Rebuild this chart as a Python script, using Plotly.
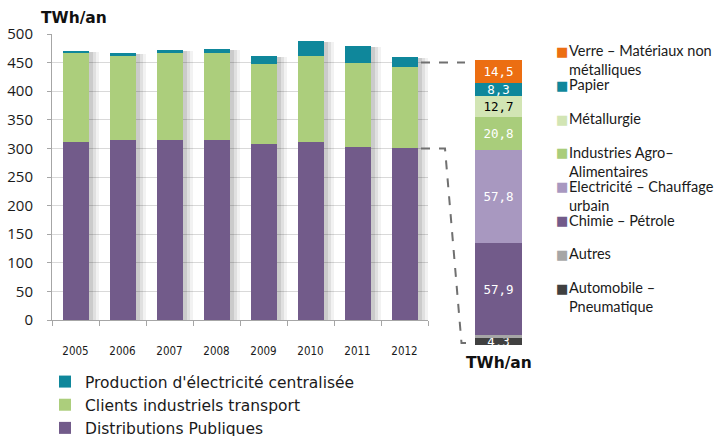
import numpy as np
import plotly.graph_objects as go

# ---------------- data ----------------
years = ["2005", "2006", "2007", "2008", "2009", "2010", "2011", "2012"]
distributions_publiques = [311, 314, 314, 314, 308, 311, 302, 301]
clients_industriels = [155, 148, 153, 153, 140, 151, 148, 142]
production_electricite = [5, 5, 5, 7, 13, 26, 29, 17]

main_names = ["Distributions Publiques", "Clients industriels transport",
              "Production d'électricité centralisée"]

sector_names = ["Automobile –<br>Pneumatique", "Autres", "Chimie – Pétrole",
                "Electricité – Chauffage<br>urbain", "Industries Agro–<br>Alimentaires",
                "Métallurgie", "Papier", "Verre – Matériaux non<br>métalliques"]
sector_values = [4.3, 1.8, 57.9, 57.8, 20.8, 12.7, 8.3, 14.5]
sector_labels = ["4,3", "", "57,9", "57,8", "20,8", "12,7", "8,3", "14,5"]

unit_label = "TWh/an"

# ---------------- style ----------------
W, H = 717, 436
main_colors = ["#725B8A", "#ACCE7C", "#0F879B"]
sector_colors = ["#404040", "#A6A6A6", "#725B8A", "#A898C0", "#A9CD7B",
                 "#D2E5B4", "#0F879B", "#EC6E12"]
sector_text_colors = ["white", "white", "white", "white", "white", "black", "white", "white"]


def px_x(p):
    return p / W


def px_y(p):
    return 1 - p / H


main_x_dom = [px_x(52), px_x(428)]
main_y_dom = [px_y(320), px_y(34)]
side_x_dom = [px_x(475), px_x(522)]
side_y_dom = [px_y(345), px_y(60)]


def main_y_paper(v):
    return main_y_dom[0] + v / 500 * (main_y_dom[1] - main_y_dom[0])


bar_w = 26 / 47

fig = go.Figure()

# soft shadows behind main bars
totals = np.array(distributions_publiques) + np.array(clients_industriels) + np.array(production_electricite)
for extra, col in [(10, "rgba(0,0,0,0.05)"), (7, "rgba(0,0,0,0.07)"), (4, "rgba(0,0,0,0.09)")]:
    fig.add_trace(go.Bar(
        x=years, y=totals - 2, base=0,
        width=bar_w + extra / 47, offset=-bar_w / 2,
        marker=dict(color=col, line=dict(width=0)),
        showlegend=False, hoverinfo="skip", xaxis="x", yaxis="y"))

base = np.zeros(len(years))
for name, vals, col in zip(main_names, [distributions_publiques, clients_industriels, production_electricite], main_colors):
    fig.add_trace(go.Bar(
        x=years, y=vals, base=base.copy(), name=name,
        width=bar_w, offset=-bar_w / 2,
        marker=dict(color=col, line=dict(width=0)),
        legend="legend", xaxis="x", yaxis="y"))
    base = base + np.array(vals)

# side stacked bar
cum = 0.0
for name, v, lab, col, tcol in zip(sector_names, sector_values, sector_labels, sector_colors, sector_text_colors):
    fig.add_trace(go.Bar(
        x=[0], y=[v], base=[cum], name=name,
        width=1, offset=-0.5,
        text=[lab], textposition="inside", insidetextanchor="middle",
        constraintext="none", textangle=0,
        textfont=dict(family="DejaVu Sans Mono", size=12.5, color=tcol),
        marker=dict(color=col, line=dict(width=0)),
        showlegend=False, xaxis="x2", yaxis="y2"))
    cum += v

side_total = cum

# dashed connector lines
x_start = px_x(421)
dash_line = dict(color="#707070", width=2, dash="dash")
shapes = [
    dict(type="line", xref="paper", yref="paper",
         x0=x_start, x1=px_x(465), y0=main_y_paper(450), y1=main_y_paper(450), line=dash_line),
    dict(type="path", xref="paper", yref="paper",
         path=f"M {x_start},{main_y_paper(300)} L {px_x(445)},{main_y_paper(300)} "
              f"L {px_x(461.5)},{px_y(343)} L {px_x(466)},{px_y(343)}",
         line=dash_line),
]

annotations = [dict(text=unit_label, x=(side_x_dom[0] + side_x_dom[1]) / 2, y=px_y(363),
                    xref="paper", yref="paper", showarrow=False, xanchor="center", yanchor="middle",
                    font=dict(family="DejaVu Sans", size=15.5, color="#111", weight="bold"))]

# right-hand legend for the sector bar (top item first)
leg_font = 14.5
for i, (name, col) in enumerate(zip(sector_names[::-1], sector_colors[::-1])):
    first_y = 51 + 33.8 * i
    n_lines = name.count("<br>") + 1
    annotations.append(dict(text="■", x=px_x(562), y=px_y(first_y + 0.5), xref="paper", yref="paper",
                            showarrow=False, xanchor="center", yanchor="middle",
                            font=dict(family="DejaVu Sans", size=13, color=col)))
    annotations.append(dict(text=name, x=px_x(567), y=px_y(first_y + (n_lines - 1) * 1.3 * leg_font / 2),
                            xref="paper", yref="paper", showarrow=False, xanchor="left",
                            yanchor="middle", align="left",
                            font=dict(family="Lato", size=leg_font, color="#1a1a1a")))

fig.update_layout(
    width=W, height=H,
    margin=dict(l=0, r=0, t=0, b=0, autoexpand=False),
    paper_bgcolor="white", plot_bgcolor="rgba(0,0,0,0)",
    barmode="overlay", bargap=0,
    font=dict(family="Open Sans", color="#1a1a1a"),
    title=dict(text=unit_label, x=px_x(41), y=px_y(18), xanchor="left", yanchor="middle",
               font=dict(family="DejaVu Sans", size=15.5, color="#111", weight="bold")),
    xaxis=dict(domain=main_x_dom, anchor="y", type="category",
               showline=True, linecolor="#A6A6A6", linewidth=1,
               ticks="outside", tickson="boundaries", ticklen=5, tickcolor="#A6A6A6",
               tickfont=dict(family="DejaVu Sans Condensed", size=11.5, color="#1a1a1a"),
               ticklabelstandoff=20, showgrid=False, range=[-0.5, 7.5]),
    yaxis=dict(domain=main_y_dom, anchor="x", range=[0, 500], dtick=50,
               showline=True, linecolor="#A6A6A6", linewidth=1,
               ticks="outside", ticklen=4, tickcolor="#A6A6A6",
               showgrid=True, gridcolor="#D9D9D9", gridwidth=1,
               tickfont=dict(family="Open Sans", size=15, color="#1a1a1a"),
               ticklabelstandoff=11, zeroline=False),
    xaxis2=dict(domain=side_x_dom, anchor="y2", range=[-0.5, 0.5], visible=False),
    yaxis2=dict(domain=side_y_dom, anchor="x2", range=[0, side_total], visible=False),
    legend=dict(x=px_x(45), y=px_y(365), xanchor="left", yanchor="top",
                traceorder="reversed", bgcolor="rgba(0,0,0,0)",
                font=dict(family="DejaVu Sans", size=15.5, color="#1a1a1a")),
    shapes=shapes,
    annotations=annotations,
)

fig.write_html("out.html", config={"displayModeBar": False},
               post_script="document.body.style.margin='0px';")
